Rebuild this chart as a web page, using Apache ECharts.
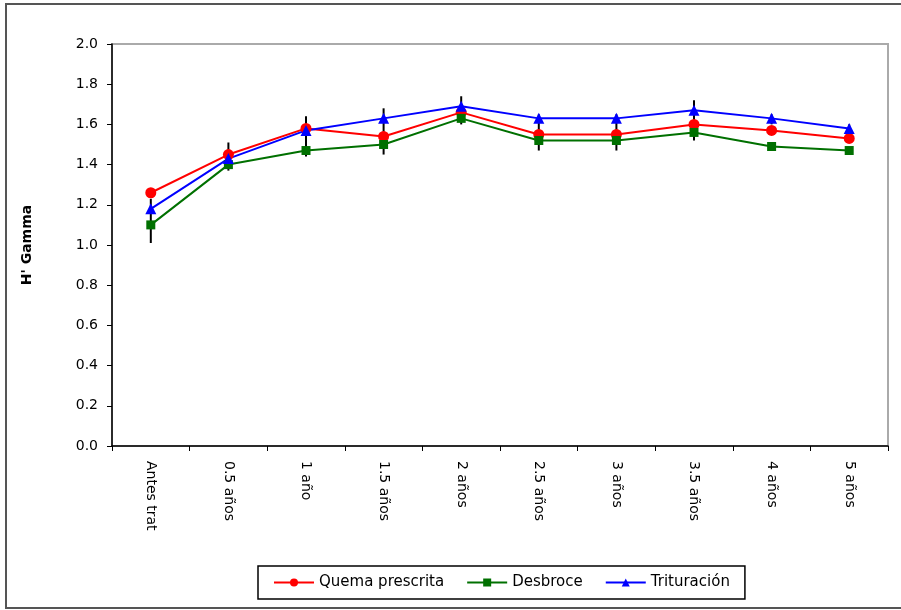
<!DOCTYPE html>
<html>
<head>
<meta charset="utf-8">
<script src="https://cdn.jsdelivr.net/npm/echarts@6/dist/echarts.min.js"></script>
<style>html,body{margin:0;padding:0;background:#fff}#c{width:901px;height:610px}</style>
</head>
<body>
<div id="c"></div>
<script>
var categories = ['Antes trat', '0.5 años', '1 año', '1.5 años', '2 años', '2.5 años', '3 años', '3.5 años', '4 años', '5 años'];
var quema = [1.26, 1.45, 1.58, 1.54, 1.66, 1.55, 1.55, 1.60, 1.57, 1.53];
var desbroce = [1.10, 1.40, 1.47, 1.50, 1.63, 1.52, 1.52, 1.56, 1.49, 1.47];
var trituracion = [1.18, 1.43, 1.57, 1.63, 1.69, 1.63, 1.63, 1.67, 1.63, 1.58];
var errLow = [1.01, 1.37, 1.44, 1.45, 1.60, 1.47, 1.47, 1.52, 1.60, 1.55];
var errHigh = [1.23, 1.51, 1.64, 1.68, 1.74, 1.65, 1.65, 1.72, 1.65, 1.60];
var yTicks = [0, 0.2, 0.4, 0.6, 0.8, 1.0, 1.2, 1.4, 1.6, 1.8, 2.0];

var errData = categories.map(function (c, i) { return [i, errLow[i], errHigh[i]]; });
var font = '"DejaVu Sans", Arial, sans-serif';

var chart = echarts.init(document.getElementById('c'));
chart.setOption({
  animation: false,
  backgroundColor: '#fff',
  graphic: [{
    type: 'rect', shape: { x: 6, y: 4, width: 910, height: 604 },
    style: { fill: 'none', stroke: '#555', lineWidth: 2 }, silent: true, z: -10
  }],
  grid: { left: 112, right: 13, top: 44, bottom: 164, show: true, borderColor: '#aaa', borderWidth: 2, backgroundColor: 'transparent' },
  legend: {
    left: 258, top: 566,
    orient: 'horizontal',
    borderColor: '#000', borderWidth: 1.5,
    padding: [9, 15, 9, 15],
    itemGap: 22,
    itemWidth: 40, itemHeight: 10,
    textStyle: { fontFamily: font, fontSize: 15, color: '#000' },
    data: ['Quema prescrita', 'Desbroce', 'Trituración']
  },
  xAxis: {
    type: 'category',
    data: categories,
    boundaryGap: true,
    axisLine: { lineStyle: { color: '#000', width: 1.5 } },
    axisTick: { show: true, length: 5, inside: false, lineStyle: { color: '#000' } },
    axisLabel: { rotate: -90, color: '#000', fontFamily: font, fontSize: 14, margin: 15, interval: 0 },
    splitLine: { show: false }
  },
  yAxis: {
    type: 'value',
    min: 0, max: 2, interval: 0.2,
    name: "H' Gamma",
    nameLocation: 'middle',
    nameRotate: 90,
    nameGap: 78,
    nameTextStyle: { fontFamily: font, fontSize: 14, fontWeight: 'bold', color: '#000' },
    axisLine: { show: true, lineStyle: { color: '#000', width: 1.5 } },
    axisTick: { show: true, length: 5, lineStyle: { color: '#000' } },
    axisLabel: {
      color: '#000', fontFamily: font, fontSize: 14, margin: 14,
      formatter: function (v) {
        var t = yTicks.filter(function (k) { return Math.abs(k - v) < 1e-9; });
        return t.length ? t[0].toFixed(1) : '';
      }
    },
    splitLine: { show: false }
  },
  series: [
    {
      type: 'custom', name: 'err', z: 1, silent: true,
      data: errData,
      renderItem: function (params, api) {
        var p1 = api.coord([api.value(0), api.value(1)]);
        var p2 = api.coord([api.value(0), api.value(2)]);
        return { type: 'line', shape: { x1: p1[0], y1: p1[1], x2: p2[0], y2: p2[1] }, style: { stroke: '#000', lineWidth: 2 } };
      }
    },
    {
      name: 'Quema prescrita', type: 'line', data: quema, z: 3,
      symbol: 'circle', symbolSize: 11,
      lineStyle: { color: '#ff0000', width: 2 },
      itemStyle: { color: '#ff0000' }
    },
    {
      name: 'Desbroce', type: 'line', data: desbroce, z: 3,
      symbol: 'rect', symbolSize: 9,
      lineStyle: { color: '#007000', width: 2 },
      itemStyle: { color: '#007000' }
    },
    {
      name: 'Trituración', type: 'line', data: trituracion, z: 3,
      symbol: 'triangle', symbolSize: 11,
      lineStyle: { color: '#0000ff', width: 2 },
      itemStyle: { color: '#0000ff' }
    }
  ]
});
</script>
</body>
</html>
